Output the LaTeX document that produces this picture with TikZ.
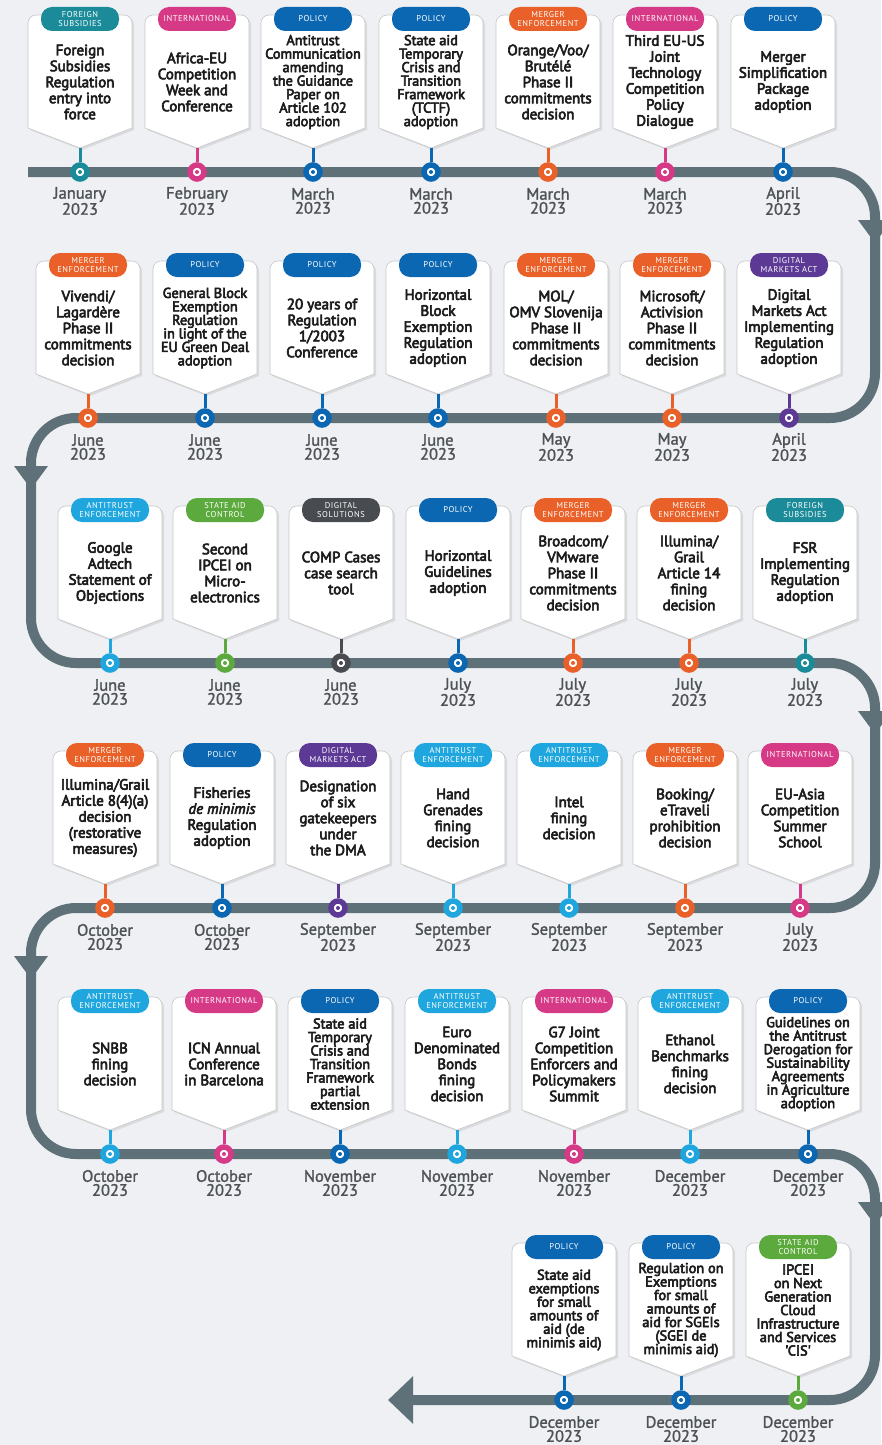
\documentclass[tikz,border=0pt]{standalone}
\usepackage{fontspec}
\setmainfont{PT Sans}
\newfontfamily\cardfont{PT Sans}[FakeBold=4]
\newfontfamily\datefont{PT Sans}[FakeBold=1.5]
\newfontfamily\tagfont{PT Sans}[LetterSpace=6]
\usepackage{xcolor}
\usetikzlibrary{arrows.meta, calc, shadows}

\definecolor{track}{RGB}{94,113,120}
\definecolor{bggray}{RGB}{238,240,243}
\definecolor{tealc}{RGB}{27,139,154}
\definecolor{pinkc}{RGB}{214,58,134}
\definecolor{bluec}{RGB}{11,103,178}
\definecolor{orangec}{RGB}{233,96,40}
\definecolor{purplec}{RGB}{93,57,150}
\definecolor{cyanc}{RGB}{31,166,222}
\definecolor{greenc}{RGB}{92,170,61}
\definecolor{darkc}{RGB}{72,76,80}
\definecolor{cardtxt}{RGB}{28,28,28}
\definecolor{datetxt}{RGB}{78,82,86}

\tikzstyle{card} = [draw=black!22, line width=0.6pt, fill=white, drop shadow={opacity=0.18, shadow xshift=2pt, shadow yshift=-2pt}]
\tikzstyle{cardtext} = [align=center, text=cardtxt, font=\cardfont\fontsize{15}{16}\selectfont, inner sep=0pt]
\tikzstyle{tight} = [font=\cardfont\fontsize{14.3}{13.5}\selectfont]
\tikzstyle{datelabel} = [align=center, text=datetxt, font=\datefont\fontsize{16.5}{14}\selectfont, inner sep=0pt]
\tikzstyle{trackline} = [draw=track, line width=10pt, rounded corners=45pt]
\tikzstyle{marker} = [fill=track]
\tikzset{
  tagpill/.style={rounded corners=11pt, fill=#1, text=white, minimum width=78pt, minimum height=24pt, inner sep=0pt, align=center, font=\tagfont\fontsize{8.5}{9.5}\selectfont},
  dot/.style={circle, draw=#1, line width=5.5pt, fill=white, minimum size=14pt, inner sep=0pt,
    path picture={\fill[#1] (path picture bounding box.center) circle (2pt);}},
  stem/.style={draw=#1, line width=3pt}
}

% one event: [text style], name, x, row y, colour, tag, text, month
\newcommand{\tlevent}[8][]{
  \draw[card] (#3,#4-24) -- (#3-52,#4-44) [rounded corners=8pt] -- (#3-52,#4-157) -- (#3+52,#4-157) [sharp corners] -- (#3+52,#4-44) -- cycle;
  \coordinate (#2p) at (#3,#4-24);
  \node[tagpill=#5] (#2t) at (#3,#4-153) {#6};
  \node[cardtext, #1] (#2c) at (#3,#4-90) {#7};
  \node[dot=#5] (#2d) at (#3,#4) {};
  \draw[stem=#5] (#2p) -- (#2d);
  \node[datelabel] (#2m) at (#3,#4+29) {#8\\2023};
}

\begin{document}
\begin{tikzpicture}[x=1pt, y=-1pt]
  \useasboundingbox (0,0) rectangle (881,1445);
  \fill[bggray] (0,0) rectangle (881,1445);

  % the track
  \draw[trackline, -{Triangle[length=25pt, width=46pt]}] (28,172) -- (875,172) -- (875,418) -- (31,418) -- (31,663) -- (875,663)
    -- (875,908) -- (31,908) -- (31,1154) -- (875,1154) -- (875,1400) -- (388,1400);

  % direction markers on the bends
  \fill[marker] (858,220) -- (892,220) -- (875,243) -- cycle;
  \fill[marker] (14,466) -- (48,466) -- (31,489) -- cycle;
  \fill[marker] (858,711) -- (892,711) -- (875,734) -- cycle;
  \fill[marker] (14,956) -- (48,956) -- (31,979) -- cycle;
  \fill[marker] (858,1202) -- (892,1202) -- (875,1225) -- cycle;

  % row 1
  \tlevent{e11}{80}{172}{tealc}{FOREIGN\\SUBSIDIES}{Foreign\\Subsidies\\Regulation\\entry into\\force}{January}
  \tlevent{e12}{197}{172}{pinkc}{INTERNATIONAL}{Africa-EU\\Competition\\Week and\\Conference}{February}
  \tlevent[tight]{e13}{313}{172}{bluec}{POLICY}{Antitrust\\Communication\\amending\\the Guidance\\Paper on\\Article 102\\adoption}{March}
  \tlevent[tight]{e14}{431}{172}{bluec}{POLICY}{State aid\\Temporary\\Crisis and\\Transition\\Framework\\(TCTF)\\adoption}{March}
  \tlevent{e15}{548}{172}{orangec}{MERGER\\ENFORCEMENT}{Orange/Voo/\\Brutélé\\Phase II\\commitments\\decision}{March}
  \tlevent{e16}{665}{172}{pinkc}{INTERNATIONAL}{Third EU-US\\Joint\\Technology\\Competition\\Policy\\Dialogue}{March}
  \tlevent{e17}{783}{172}{bluec}{POLICY}{Merger\\Simplification\\Package\\adoption}{April}

  % row 2
  \tlevent{e21}{88}{418}{orangec}{MERGER\\ENFORCEMENT}{Vivendi/\\Lagardère\\Phase II\\commitments\\decision}{June}
  \tlevent[tight]{e22}{205}{418}{bluec}{POLICY}{General Block\\Exemption\\Regulation\\in light of the\\EU Green Deal\\adoption}{June}
  \tlevent{e23}{322}{418}{bluec}{POLICY}{20 years of\\Regulation\\1/2003\\Conference}{June}
  \tlevent{e24}{438}{418}{bluec}{POLICY}{Horizontal\\Block\\Exemption\\Regulation\\adoption}{June}
  \tlevent{e25}{556}{418}{orangec}{MERGER\\ENFORCEMENT}{MOL/\\OMV Slovenija\\Phase II\\commitments\\decision}{May}
  \tlevent{e26}{672}{418}{orangec}{MERGER\\ENFORCEMENT}{Microsoft/\\Activision\\Phase II\\commitments\\decision}{May}
  \tlevent{e27}{789}{418}{purplec}{DIGITAL\\MARKETS ACT}{Digital\\Markets Act\\Implementing\\Regulation\\adoption}{April}

  % row 3
  \tlevent{e31}{110}{663}{cyanc}{ANTITRUST\\ENFORCEMENT}{Google\\Adtech\\Statement of\\Objections}{June}
  \tlevent{e32}{225}{663}{greenc}{STATE AID\\CONTROL}{Second\\IPCEI on\\Micro-\\electronics}{June}
  \tlevent{e33}{341}{663}{darkc}{DIGITAL\\SOLUTIONS}{COMP Cases\\case search\\tool}{June}
  \tlevent{e34}{458}{663}{bluec}{POLICY}{Horizontal\\Guidelines\\adoption}{July}
  \tlevent{e35}{573}{663}{orangec}{MERGER\\ENFORCEMENT}{Broadcom/\\VMware\\Phase II\\commitments\\decision}{July}
  \tlevent{e36}{689}{663}{orangec}{MERGER\\ENFORCEMENT}{Illumina/\\Grail\\Article 14\\fining\\decision}{July}
  \tlevent{e37}{805}{663}{tealc}{FOREIGN\\SUBSIDIES}{FSR\\Implementing\\Regulation\\adoption}{July}

  % row 4
  \tlevent{e41}{105}{908}{orangec}{MERGER\\ENFORCEMENT}{Illumina/Grail\\Article 8(4)(a)\\decision\\(restorative\\measures)}{October}
  \tlevent{e42}{222}{908}{bluec}{POLICY}{Fisheries\\\textit{de minimis}\\Regulation\\adoption}{October}
  \tlevent{e43}{338}{908}{purplec}{DIGITAL\\MARKETS ACT}{Designation\\of six\\gatekeepers\\under\\the DMA}{September}
  \tlevent{e44}{453}{908}{cyanc}{ANTITRUST\\ENFORCEMENT}{Hand\\Grenades\\fining\\decision}{September}
  \tlevent{e45}{569}{908}{cyanc}{ANTITRUST\\ENFORCEMENT}{Intel\\fining\\decision}{September}
  \tlevent{e46}{685}{908}{orangec}{MERGER\\ENFORCEMENT}{Booking/\\eTraveli\\prohibition\\decision}{September}
  \tlevent{e47}{800}{908}{pinkc}{INTERNATIONAL}{EU-Asia\\Competition\\Summer\\School}{July}

  % row 5
  \tlevent{e51}{110}{1154}{cyanc}{ANTITRUST\\ENFORCEMENT}{SNBB\\fining\\decision}{October}
  \tlevent{e52}{224}{1154}{pinkc}{INTERNATIONAL}{ICN Annual\\Conference\\in Barcelona}{October}
  \tlevent[tight]{e53}{340}{1154}{bluec}{POLICY}{State aid\\Temporary\\Crisis and\\Transition\\Framework\\partial\\extension}{November}
  \tlevent{e54}{457}{1154}{cyanc}{ANTITRUST\\ENFORCEMENT}{Euro\\Denominated\\Bonds\\fining\\decision}{November}
  \tlevent{e55}{574}{1154}{pinkc}{INTERNATIONAL}{G7 Joint\\Competition\\Enforcers and\\Policymakers\\Summit}{November}
  \tlevent{e56}{690}{1154}{cyanc}{ANTITRUST\\ENFORCEMENT}{Ethanol\\Benchmarks\\fining\\decision}{December}
  \tlevent[tight]{e57}{808}{1154}{bluec}{POLICY}{Guidelines on\\the Antitrust\\Derogation for\\Sustainability\\Agreements\\in Agriculture\\adoption}{December}

  % row 6
  \tlevent[tight]{e61}{564}{1400}{bluec}{POLICY}{State aid\\exemptions\\for small\\amounts of\\aid (de\\minimis aid)}{December}
  \tlevent[tight]{e62}{681}{1400}{bluec}{POLICY}{Regulation on\\Exemptions\\for small\\amounts of\\aid for SGEIs\\(SGEI de\\minimis aid)}{December}
  \tlevent[tight]{e63}{798}{1400}{greenc}{STATE AID\\CONTROL}{IPCEI\\on Next\\Generation\\Cloud\\Infrastructure\\and Services\\'CIS'}{December}
\end{tikzpicture}
\end{document}
